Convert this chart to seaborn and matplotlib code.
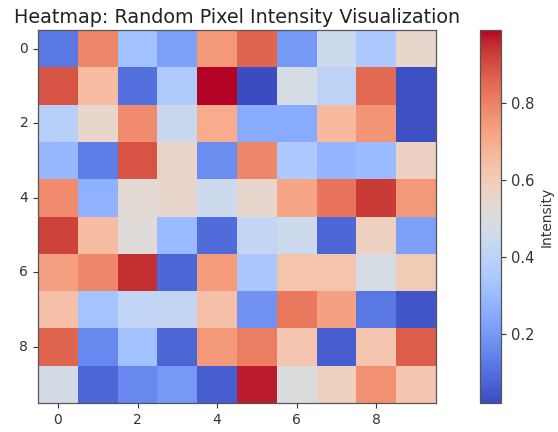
import numpy as np
import pandas as pd
import matplotlib
matplotlib.use("Agg")
import matplotlib.pyplot as plt
import seaborn as sns

rows = list(range(10))
cols = list(range(10))
row0 = [0.12, 0.79, 0.32, 0.22, 0.75, 0.86, 0.20, 0.45, 0.35, 0.55]
row1 = [0.89, 0.65, 0.10, 0.36, 0.99, 0.02, 0.48, 0.40, 0.85, 0.03]
row2 = [0.38, 0.55, 0.78, 0.44, 0.70, 0.25, 0.25, 0.66, 0.76, 0.03]
row3 = [0.29, 0.13, 0.89, 0.56, 0.17, 0.79, 0.35, 0.28, 0.30, 0.57]
row4 = [0.78, 0.27, 0.53, 0.55, 0.45, 0.55, 0.72, 0.83, 0.93, 0.75]
row5 = [0.92, 0.65, 0.52, 0.30, 0.09, 0.42, 0.45, 0.08, 0.58, 0.22]
row6 = [0.73, 0.79, 0.95, 0.08, 0.74, 0.34, 0.63, 0.63, 0.48, 0.60]
row7 = [0.64, 0.33, 0.41, 0.42, 0.64, 0.18, 0.82, 0.73, 0.12, 0.04]
row8 = [0.86, 0.16, 0.32, 0.08, 0.75, 0.81, 0.62, 0.06, 0.62, 0.87]
row9 = [0.47, 0.08, 0.16, 0.20, 0.06, 0.97, 0.50, 0.58, 0.77, 0.62]
data = np.array([row0, row1, row2, row3, row4, row5, row6, row7, row8, row9])
df = pd.DataFrame(data, index=rows, columns=cols)
tick_vals = [0, 2, 4, 6, 8]
cbar_ticks = [0.2, 0.4, 0.6, 0.8]

fig = plt.figure(figsize=(5.58, 4.32), dpi=100)
W, H = 558, 432
ax = fig.add_axes([38 / W, (H - 403) / H, 398 / W, 373 / H])
cax = fig.add_axes([480 / W, (H - 403) / H, 21 / W, 373 / H])

sns.heatmap(df, cmap="coolwarm", ax=ax, cbar_ax=cax,
            cbar_kws={"label": "Intensity", "ticks": cbar_ticks})

ax.set_xticks([t + 0.5 for t in tick_vals])
ax.set_xticklabels([str(t) for t in tick_vals], rotation=0)
ax.set_yticks([t + 0.5 for t in tick_vals])
ax.set_yticklabels([str(t) for t in tick_vals], rotation=0)
ax.tick_params(length=3.5, width=0.8, labelsize=10, color="#333333", labelcolor="#333333")
for s in ax.spines.values():
    s.set_visible(True)
    s.set_color("#555555")
    s.set_linewidth(0.9)
ax.set_title("Heatmap: Random Pixel Intensity Visualization", fontsize=13.8, color="#222222", pad=5)

cbar = ax.collections[0].colorbar
cbar.outline.set_visible(True)
cbar.outline.set_edgecolor("#555555")
cbar.outline.set_linewidth(0.9)
cax.tick_params(length=3.5, width=0.8, labelsize=10.5, color="#333333", labelcolor="#333333")
cbar.set_label("Intensity", fontsize=10, color="#333333")
cax.set_yticklabels([f"{t:.1f}" for t in cbar_ticks])

fig.savefig("out.png", dpi=100)
